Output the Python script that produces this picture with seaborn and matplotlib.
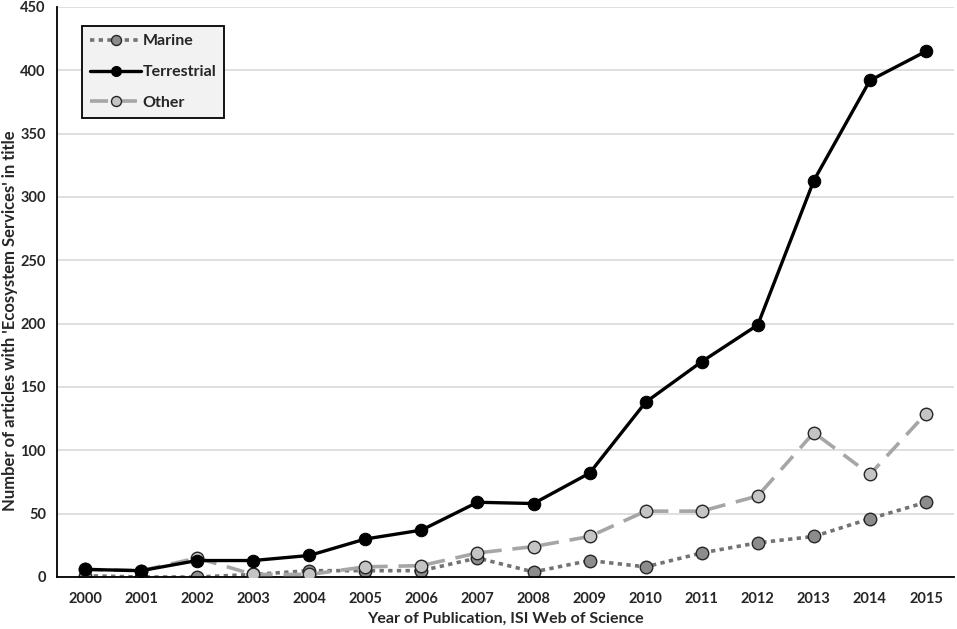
import seaborn as sns
import matplotlib.pyplot as plt
import pandas as pd
import numpy as np

# Values
years = list(range(2000, 2016))
marine = [1, 0, 0, 2, 5, 5, 5, 15, 4, 13, 8, 19, 27, 32, 46, 59]
terrestrial = [6, 5, 13, 13, 17, 30, 37, 59, 58, 82, 138, 170, 199, 313, 392, 415]
other = [6, 5, 15, 2, 2, 8, 9, 19, 24, 32, 52, 52, 64, 114, 81, 129]

sns.set_style("white")
plt.rcParams['font.family'] = ['Lato', 'DejaVu Sans']
plt.rcParams['font.weight'] = 'bold'

fig = plt.figure(figsize=(9.57, 6.29), dpi=100)
ax = fig.add_axes([57 / 957, 52 / 629, 897 / 957, 570 / 629])

df = pd.DataFrame({'Year': years, 'Marine': marine,
                   'Terrestrial': terrestrial, 'Other': other})

# Terrestrial on top, marine below
sns.lineplot(data=df, x='Year', y='Other', ax=ax, color='#a6a6a6', lw=2.6,
             linestyle=(0, (5, 3)), marker='o', markersize=9,
             markerfacecolor='#c4c4c4', markeredgecolor='#262626',
             markeredgewidth=1, label='Other', zorder=3)
sns.lineplot(data=df, x='Year', y='Marine', ax=ax, color='#737373', lw=2.6,
             linestyle=(0, (1.2, 1.2)), marker='o', markersize=9,
             markerfacecolor='#8c8c8c', markeredgecolor='#262626',
             markeredgewidth=1, label='Marine', zorder=2)
sns.lineplot(data=df, x='Year', y='Terrestrial', ax=ax, color='black', lw=2.4,
             marker='o', markersize=9, markerfacecolor='black',
             markeredgecolor='black', label='Terrestrial', zorder=4)

ax.set_xlim(1999.5, 2015.5)
ax.set_ylim(0, 450)
ax.set_yticks(np.arange(0, 451, 50))
ax.set_xticks(years)
ax.set_xticks(np.arange(1999.5, 2016, 1), minor=True)
ax.tick_params(axis='x', which='major', length=0, pad=11, labelsize=10.5)
ax.tick_params(axis='x', which='minor', direction='in', length=5, width=1, color='black')
ax.tick_params(axis='y', direction='in', length=4, width=1, color='black', labelsize=10.5, pad=8)
ax.yaxis.grid(True, color='#d9d9d9', lw=1.2)
ax.set_axisbelow(True)

for s in ['top', 'right']:
    ax.spines[s].set_visible(False)
for s in ['left', 'bottom']:
    ax.spines[s].set_color('black')
    ax.spines[s].set_linewidth(1.3)

ax.set_xlabel('Year of Publication, ISI Web of Science', fontsize=11.5, fontweight='bold')
ax.xaxis.set_label_coords(0.5, -0.061)
ax.set_ylabel("Number of articles with 'Ecosystem Services' in title", fontsize=12,
              fontweight='bold')
ax.yaxis.set_label_coords(-0.043, 0.45)

# legend order: Marine, Terrestrial, Other
h, l = ax.get_legend_handles_labels()
order = [l.index('Marine'), l.index('Terrestrial'), l.index('Other')]
leg = ax.legend([h[i] for i in order], [l[i] for i in order],
                loc='upper left', bbox_to_anchor=(82 / 957, 1 - 26 / 629),
                bbox_transform=fig.transFigure, frameon=True, fancybox=False,
                facecolor='#f2f2f2', edgecolor='black', framealpha=1,
                fontsize=11.5, handlelength=3.2, handletextpad=0.1,
                borderpad=0.5, labelspacing=1.05, borderaxespad=0,
                markerscale=0.8)
leg.get_frame().set_linewidth(1.3)
for t in leg.get_texts():
    t.set_fontweight('bold')

fig.savefig('out.png', dpi=100)
